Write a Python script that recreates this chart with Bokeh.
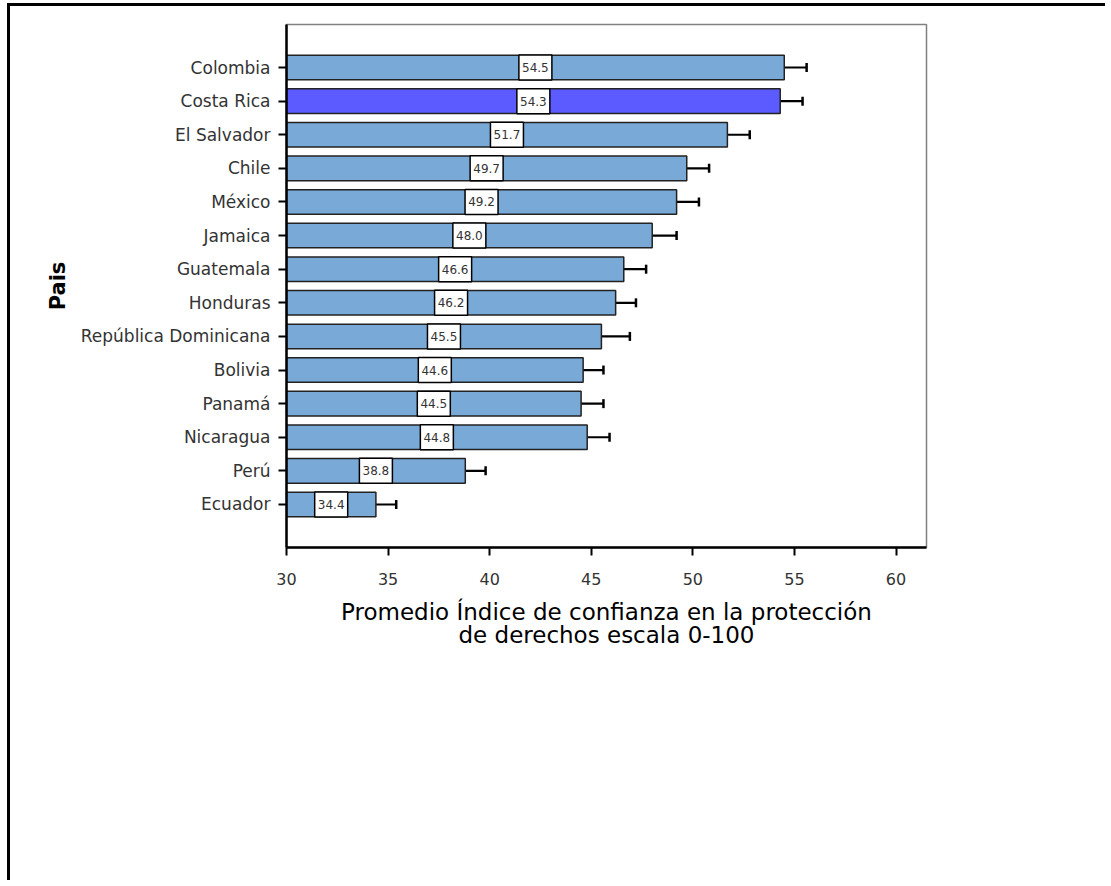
from bokeh.plotting import figure
from bokeh.models import ColumnDataSource, Range1d, FixedTicker, Whisker, TeeHead
from bokeh.core.properties import value
from bokeh.embed import file_html
from bokeh.resources import INLINE

countries = ["Colombia", "Costa Rica", "El Salvador", "Chile", "México", "Jamaica",
             "Guatemala", "Honduras", "República Dominicana", "Bolivia", "Panamá",
             "Nicaragua", "Perú", "Ecuador"]
means = [54.5, 54.3, 51.7, 49.7, 49.2, 48.0, 46.6, 46.2, 45.5, 44.6, 44.5, 44.8, 38.8, 34.4]
lower = [53.4, 53.2, 50.5, 48.6, 48.0, 46.8, 45.5, 45.2, 44.1, 43.6, 43.4, 43.6, 37.9, 33.3]
upper = [55.6, 55.4, 52.8, 50.8, 50.3, 49.2, 47.7, 47.2, 46.9, 45.6, 45.6, 45.9, 39.8, 35.4]
highlight = "Costa Rica"
x_ticks = [30, 35, 40, 45, 50, 55, 60]
x_title = "Promedio Índice de confianza en la protección\nde derechos escala 0-100"
y_title = "Pais"

BASE = 30
n = len(countries)
ypos = [n - 1 - i for i in range(n)]
colors = ["#5B5BFF" if c == highlight else "#79A9D6" for c in countries]
labels = ["%.1f" % m for m in means]
mids = [(BASE + m) / 2 for m in means]

src = ColumnDataSource(dict(y=ypos, country=countries, mean=means, lower=lower,
                            upper=upper, color=colors, label=labels, mid=mids))

FONT = "DejaVu Sans"

p = figure(width=1098, height=877, output_backend="svg", toolbar_location=None,
           x_range=Range1d(30, 61.5), y_range=Range1d(-1.28, 14.28),
           min_border_left=276, min_border_right=182, min_border_top=18,
           min_border_bottom=336,
           styles={"margin-top": "3px", "margin-left": "7px",
                   "border-top": "3px solid black", "border-left": "3px solid black"})

p.grid.visible = False
p.outline_line_color = "#808080"
p.outline_line_width = 1.5
p.background_fill_color = "white"
p.border_fill_color = "white"

p.hbar(y="y", left=BASE, right="mean", height=0.73, fill_color="color",
       line_color="#222222", line_width=1.5, source=src)

wh = Whisker(base="y", lower="lower", upper="upper", dimension="width", source=src,
             line_color="black", line_width=2.2,
             lower_head=TeeHead(size=9, line_color="black", line_width=2.5),
             upper_head=TeeHead(size=9, line_color="black", line_width=2.5))
p.add_layout(wh)

p.rect(x="mid", y="y", width=33, height=25, width_units="screen", height_units="screen",
       fill_color="white", line_color="black", line_width=1.5, source=src)
p.text(x="mid", y="y", text="label", text_align="center", text_baseline="middle",
       text_font=value(FONT), text_font_size="12px", text_color="#333333", source=src)

# axes
p.xaxis.ticker = FixedTicker(ticks=x_ticks)
p.xaxis.axis_line_width = 2.5
p.xaxis.axis_line_color = "black"
p.xaxis.major_tick_line_width = 2
p.xaxis.major_tick_line_color = "black"
p.xaxis.major_tick_out = 8
p.xaxis.major_tick_in = 0
p.xaxis.minor_tick_line_color = None
p.xaxis.major_label_standoff = 17
p.xaxis.major_label_text_font = FONT
p.xaxis.major_label_text_font_size = "16px"
p.xaxis.major_label_text_color = "#333333"
p.xaxis.axis_label = x_title
p.xaxis.axis_label_text_font = FONT
p.xaxis.axis_label_text_font_size = "23px"
p.xaxis.axis_label_text_font_style = "normal"
p.xaxis.axis_label_text_color = "black"
p.xaxis.axis_label_standoff = 11
p.xaxis.axis_label_text_line_height = 0.9

p.yaxis.ticker = FixedTicker(ticks=ypos)
p.yaxis.major_label_overrides = {y: c for y, c in zip(ypos, countries)}
p.yaxis.axis_line_width = 2.5
p.yaxis.axis_line_color = "black"
p.yaxis.major_tick_line_width = 2
p.yaxis.major_tick_line_color = "black"
p.yaxis.major_tick_out = 8
p.yaxis.major_tick_in = 0
p.yaxis.minor_tick_line_color = None
p.yaxis.major_label_standoff = 8
p.yaxis.major_label_text_font = FONT
p.yaxis.major_label_text_font_size = "17px"
p.yaxis.major_label_text_color = "#333333"
p.yaxis.axis_label = y_title
p.yaxis.axis_label_text_font = FONT
p.yaxis.axis_label_text_font_size = "21px"
p.yaxis.axis_label_text_font_style = "bold"
p.yaxis.axis_label_text_color = "black"
p.yaxis.axis_label_standoff = 8

open("out.html", "w").write(file_html(p, INLINE))
